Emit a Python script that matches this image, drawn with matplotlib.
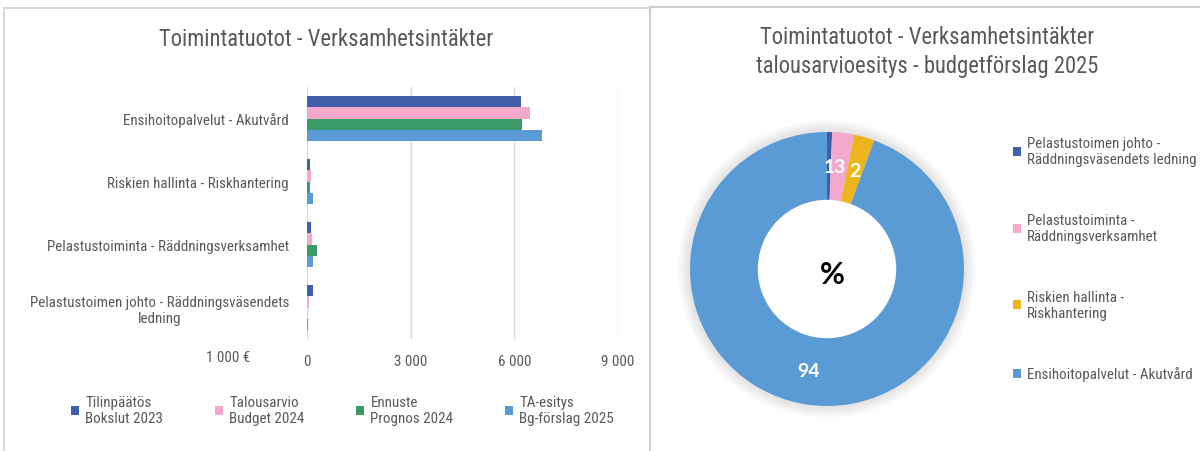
import numpy as np
import matplotlib
matplotlib.use('Agg')
import matplotlib.pyplot as plt
from matplotlib import font_manager
from matplotlib.patches import Rectangle, Circle

# Bar chart data (1 000 EUR), categories bottom -> top
categories = ['Pelastustoimen johto - Räddningsväsendets\nledning',
              'Pelastustoiminta - Räddningsverksamhet',
              'Riskien hallinta - Riskhantering',
              'Ensihoitopalvelut - Akutvård']
series_names = ['Tilinpäätös\nBokslut 2023', 'Talousarvio\nBudget 2024',
                'Ennuste\nPrognos 2024', 'TA-esitys\nBg-förslag 2025']
bokslut_2023 = [168, 120, 84, 6183]
budget_2024 = [48, 144, 108, 6452]
prognos_2024 = [12, 288, 96, 6220]
forslag_2025 = [24, 168, 168, 6791]
x_ticks = [0, 3000, 6000, 9000]
x_tick_labels = ['0', '3 000', '6 000', '9 000']

# Donut data (%), clockwise from top
pie_names = ['Pelastustoimen johto -\nRäddningsväsendets ledning',
             'Pelastustoiminta -\nRäddningsverksamhet',
             'Riskien hallinta -\nRiskhantering',
             'Ensihoitopalvelut - Akutvård']
pie_shares = [0.6, 2.6, 2.4, 94.4]

bar_colors = ['#3f5faa', '#f4a8cc', '#3a9a68', '#5b9bd5']
pie_colors = ['#3f5faa', '#f4a8cc', '#ecb51c', '#5b9bd5']
text_gray = '#595959'
grid_gray = '#d9d9d9'


def have_font(name):
    try:
        font_manager.findfont(font_manager.FontProperties(family=name), fallback_to_default=False)
        return True
    except Exception:
        return False


narrow = next((f for f in ['Liberation Sans Narrow', 'Roboto Condensed', 'Arial Narrow',
                           'Open Sans Condensed'] if have_font(f)), None)
if narrow:
    plt.rcParams['font.family'] = [narrow, 'DejaVu Sans']
    fs, fs_title = 10.8, 16.3
else:
    plt.rcParams['font.family'] = ['Liberation Sans', 'DejaVu Sans']
    fs, fs_title = 9.3, 14.2

W, H = 1200, 452
fig = plt.figure(figsize=(W / 100, H / 100), dpi=100)


def fx(px):
    return px / W


def fy(py):
    return 1 - py / H


# panel frames
fig.patches.append(Rectangle((fx(4), fy(470)), fx(646), 461 / H, transform=fig.transFigure,
                             fill=False, edgecolor=grid_gray, linewidth=1.5))
fig.patches.append(Rectangle((fx(650), fy(470)), fx(560), 462 / H, transform=fig.transFigure,
                             fill=False, edgecolor='#cfcfcf', linewidth=1.5))

# ---- bar chart ----
ax = fig.add_axes([fx(307), fy(340), fx(311), 252 / H])
y = np.arange(len(categories))
h = 0.175
all_series = [bokslut_2023, budget_2024, prognos_2024, forslag_2025]
handles = []
for i, vals in enumerate(all_series):
    b = ax.barh(y + (1.5 - i) * h, vals, height=h, color=bar_colors[i], zorder=3)
    handles.append(b)

ax.set_xlim(0, 9000)
ax.set_ylim(-0.5, 3.5)
ax.set_xticks(x_ticks)
ax.set_xticklabels(x_tick_labels, fontsize=fs, color=text_gray)
ax.set_yticks(y)
ax.set_yticklabels(categories, fontsize=fs, color=text_gray, multialignment='center')
ax.tick_params(length=0, pad=13)
ax.tick_params(axis='x', pad=11)
ax.grid(axis='x', color=grid_gray, linewidth=1, zorder=0)
for s in ax.spines.values():
    s.set_visible(False)

fig.text(fx(228), fy(358), '1 000 €', fontsize=fs, color=text_gray, ha='center', va='center')
fig.text(fx(326), fy(39), 'Toimintatuotot - Verksamhetsintäkter', fontsize=fs_title,
         color=text_gray, ha='center', va='center')

fig.legend(handles, series_names, loc='upper left', bbox_to_anchor=(fx(71), fy(396)),
           ncol=4, frameon=False, fontsize=fs, labelcolor=text_gray,
           handlelength=0.55, handleheight=0.55, handletextpad=0.4,
           columnspacing=3.45, borderpad=0, borderaxespad=0)

# ---- donut ----
cx, cy, r = 827, 270, 137
lim = 1.12
pax = fig.add_axes([fx(cx - r * lim), fy(cy + r * lim), 2 * r * lim / W, 2 * r * lim / H])
pax.axis('off')
for rr in np.linspace(1.005, 1.09, 10):
    pax.add_patch(Circle((0, 0), rr, color='#808080', alpha=0.02, lw=0, zorder=0))

wedges, _, autotexts = pax.pie(pie_shares, colors=pie_colors, startangle=90, counterclock=False,
                               radius=1, autopct='%.0f', pctdistance=0.75,
                               wedgeprops=dict(width=0.5, linewidth=0),
                               textprops=dict(color='white', fontsize=14, fontweight='bold',
                                              family='Lato'))
pax.add_patch(Circle((0, 0), 0.5, color='white', zorder=5))
pax.text(0.04, -0.04, '%', fontsize=22, fontweight='bold', family='Lato',
         ha='center', va='center', color='black', zorder=6)
pax.set_xlim(-lim, lim)
pax.set_ylim(-lim, lim)
pax.set_aspect('equal')

fig.text(fx(927), fy(52), 'Toimintatuotot - Verksamhetsintäkter\ntalousarvioesitys - budgetförslag 2025',
         fontsize=fs_title, color=text_gray, ha='center', va='center', linespacing=1.35)

fig.legend(wedges, pie_names, loc='upper left', bbox_to_anchor=(fx(1013), fy(137)),
           frameon=False, fontsize=fs, labelcolor=text_gray,
           handlelength=0.55, handleheight=0.55, handletextpad=0.4,
           labelspacing=3.05 * 11 / fs, borderpad=0, borderaxespad=0)

fig.savefig('out.png', dpi=100)
